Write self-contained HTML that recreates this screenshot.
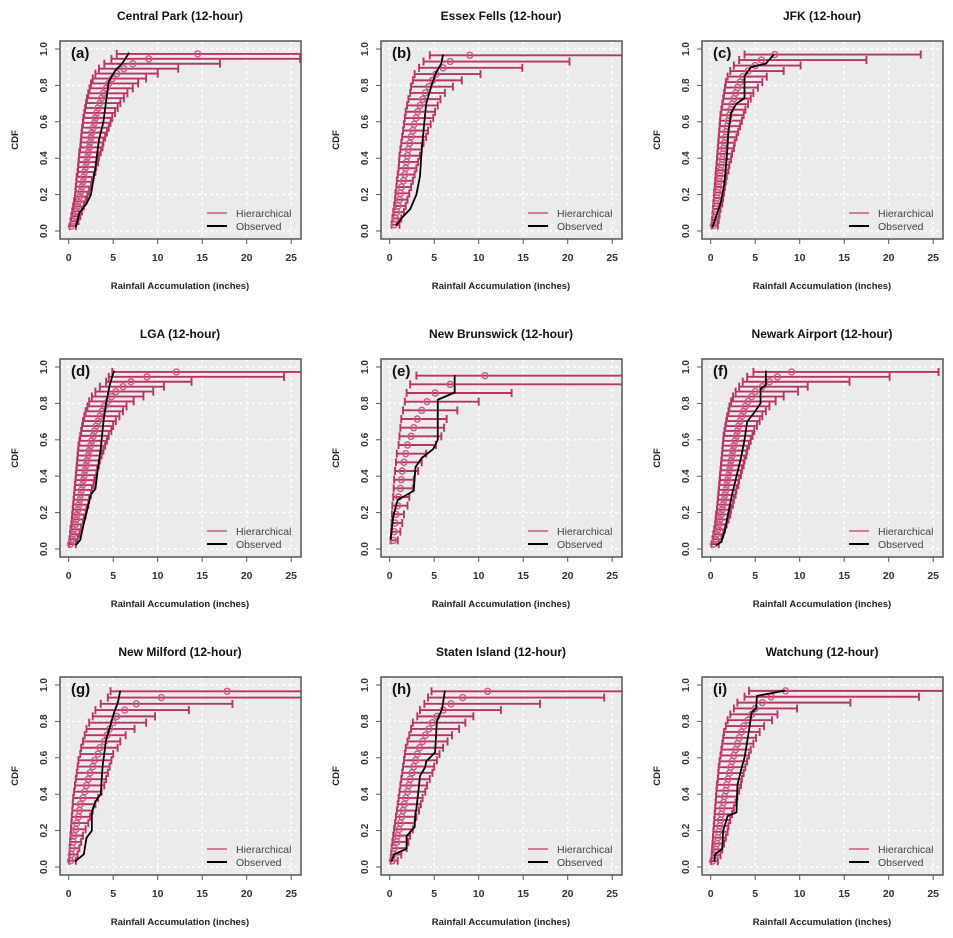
<!DOCTYPE html>
<html><head><meta charset="utf-8"><style>
body{margin:0;background:#fff;}
svg{display:block;font-family:"Liberation Sans",sans-serif;}
</style></head><body>
<svg id="fig" width="953" height="938" viewBox="0 0 953 938"></svg>
<script>
const titles=["Central Park (12-hour)","Essex Fells (12-hour)","JFK (12-hour)","LGA (12-hour)","New Brunswick (12-hour)","Newark Airport (12-hour)","New Milford (12-hour)","Staten Island (12-hour)","Watchung (12-hour)"];
const letters=["(a)","(b)","(c)","(d)","(e)","(f)","(g)","(h)","(i)"];
const xTicks=[0,5,10,15,20,25];
const yTicks=[0,0.2,0.4,0.6,0.8,1.0];
const yTickLabels=["0.0","0.2","0.4","0.6","0.8","1.0"];
const medA=[0.3,0.5,0.7,0.85,1.0,1.1,1.25,1.35,1.5,1.6,1.7,1.8,1.9,2.0,2.1,2.2,2.3,2.4,2.5,2.6,2.75,2.9,3.0,3.15,3.3,3.5,3.7,3.9,4.2,4.5,4.9,5.4,6.2,7.2,9.0,14.5];
const loA=[0.1,0.2,0.3,0.4,0.5,0.6,0.7,0.75,0.8,0.85,0.9,1.0,1.05,1.1,1.15,1.2,1.3,1.35,1.4,1.45,1.5,1.6,1.65,1.75,1.85,1.95,2.05,2.2,2.35,2.5,2.7,3.0,3.4,4.0,4.8,5.4];
const hiA=[0.8,1.1,1.3,1.5,1.7,1.9,2.1,2.3,2.5,2.6,2.8,3.0,3.1,3.3,3.4,3.6,3.8,3.9,4.1,4.3,4.5,4.7,4.9,5.2,5.5,5.8,6.2,6.6,7.2,7.8,8.7,10,12.3,17,26,27];
const obsXA=[0.8,1.2,2.0,2.5,3.0,3.4,3.9,4.3,4.5,5.2,6.0,6.8];
const obsPA=[0.02,0.1,0.15,0.2,0.35,0.5,0.6,0.75,0.82,0.88,0.92,0.98];
const medB=[0.5,0.65,0.8,0.95,1.1,1.2,1.3,1.55,1.7,1.8,1.9,2.0,2.1,2.25,2.4,2.6,2.75,2.95,3.15,3.4,3.7,4.0,4.4,4.8,5.2,6.0,6.8,9.0];
const loB=[0.2,0.3,0.4,0.5,0.6,0.65,0.75,0.8,0.9,1.0,1.05,1.1,1.2,1.3,1.4,1.5,1.6,1.7,1.8,1.95,2.1,2.3,2.4,2.6,2.8,3.3,3.8,4.5];
const hiB=[1.1,1.3,1.6,1.8,2.0,2.2,2.4,2.6,2.8,3.0,3.2,3.4,3.6,3.8,4.1,4.3,4.6,4.9,5.1,5.4,5.7,6.2,7.1,8.1,10.2,14.9,20.2,27];
const obsXB=[0.7,1.5,2.3,3.0,3.4,3.6,3.9,4.1,4.7,5.2,5.8,6.0];
const obsPB=[0.03,0.08,0.12,0.2,0.3,0.45,0.6,0.7,0.8,0.87,0.92,0.97];
const medC=[0.3,0.4,0.5,0.55,0.65,0.7,0.8,0.9,0.95,1.0,1.1,1.2,1.3,1.35,1.45,1.55,1.65,1.75,1.85,2.0,2.1,2.25,2.4,2.6,2.8,3.0,3.3,3.6,4.2,5.0,5.7,7.2];
const loC=[0.1,0.15,0.2,0.25,0.3,0.35,0.4,0.45,0.5,0.55,0.6,0.65,0.7,0.75,0.8,0.85,0.9,0.95,1.0,1.05,1.1,1.2,1.3,1.4,1.5,1.6,1.7,1.9,2.2,2.6,3.2,3.8];
const hiC=[0.8,0.9,1.0,1.1,1.3,1.4,1.5,1.6,1.7,1.8,2.0,2.1,2.3,2.4,2.6,2.7,2.9,3.1,3.3,3.5,3.7,3.9,4.2,4.5,4.8,5.3,5.8,6.3,8.2,10.1,17.5,23.6];
const obsXC=[0.2,0.6,1.1,1.5,1.8,2.0,2.3,2.9,3.8,3.8,4.5,6.2,7.1];
const obsPC=[0.02,0.08,0.15,0.25,0.4,0.55,0.65,0.7,0.73,0.85,0.9,0.92,0.97];
const medD=[0.2,0.35,0.5,0.6,0.75,0.85,0.95,1.05,1.15,1.25,1.35,1.45,1.55,1.65,1.75,1.85,1.95,2.05,2.2,2.3,2.45,2.6,2.75,2.9,3.1,3.3,3.5,3.75,4.0,4.4,4.8,5.3,6.1,7.0,8.8,12.1];
const loD=[0.05,0.1,0.15,0.2,0.3,0.35,0.4,0.45,0.5,0.55,0.6,0.65,0.7,0.75,0.8,0.85,0.9,0.95,1.0,1.05,1.1,1.2,1.3,1.4,1.5,1.6,1.75,1.9,2.1,2.3,2.6,3.0,3.5,4.2,4.5,4.9];
const hiD=[0.8,1.0,1.2,1.4,1.6,1.7,1.9,2.0,2.2,2.3,2.5,2.6,2.8,2.9,3.1,3.2,3.4,3.5,3.7,3.9,4.1,4.3,4.5,4.8,5.0,5.3,5.7,6.1,6.5,7.3,8.4,9.5,10.7,13.8,24.2,27];
const obsXD=[0.8,1.3,1.6,2.0,2.5,3.0,3.3,3.6,3.9,4.2,4.6,5.1];
const obsPD=[0.02,0.05,0.12,0.2,0.3,0.33,0.45,0.55,0.7,0.8,0.9,0.98];
const medE=[0.4,0.5,0.6,0.7,0.9,1.0,1.2,1.3,1.4,1.6,1.8,2.0,2.4,2.7,3.1,3.6,4.2,5.1,6.8,10.7];
const loE=[0.1,0.15,0.2,0.25,0.3,0.4,0.45,0.5,0.6,0.7,0.8,1.0,1.1,1.2,1.3,1.5,1.7,1.9,2.3,3.0];
const hiE=[0.9,1.2,1.4,1.6,2.0,2.2,2.6,2.7,3.2,3.6,4.1,5.2,5.8,6.1,6.4,7.6,10,13.7,27,27];
const obsXE=[0.1,0.4,0.9,2.0,2.7,2.9,3.6,4.9,5.4,5.4,7.3,7.3];
const obsPE=[0.05,0.18,0.27,0.3,0.32,0.45,0.5,0.55,0.6,0.82,0.86,0.955];
const medF=[0.3,0.5,0.65,0.8,0.95,1.05,1.15,1.3,1.4,1.5,1.6,1.7,1.8,1.9,2.0,2.1,2.2,2.3,2.4,2.5,2.6,2.75,2.9,3.0,3.15,3.3,3.5,3.7,3.9,4.2,4.6,5.0,5.8,6.6,7.5,9.1];
const loF=[0.1,0.2,0.3,0.4,0.5,0.55,0.6,0.7,0.75,0.8,0.85,0.9,0.95,1.0,1.05,1.1,1.15,1.2,1.25,1.3,1.35,1.4,1.45,1.55,1.65,1.75,1.85,2.0,2.1,2.3,2.5,2.8,3.2,3.6,4.1,4.8];
const hiF=[0.9,1.2,1.4,1.6,1.8,2.0,2.2,2.3,2.5,2.6,2.8,2.9,3.1,3.2,3.4,3.5,3.7,3.8,4.0,4.1,4.3,4.5,4.7,4.9,5.2,5.5,5.8,6.2,6.6,7.3,8.2,9.8,10.9,15.6,20.1,25.6];
const obsXF=[0.6,1.2,1.6,1.9,2.4,2.9,3.4,3.8,4.1,4.9,5.6,5.6,6.2,6.2];
const obsPF=[0.02,0.04,0.1,0.18,0.3,0.4,0.5,0.6,0.7,0.75,0.8,0.88,0.9,0.98];
const medG=[0.2,0.3,0.4,0.5,0.6,0.8,0.9,1.1,1.2,1.3,1.6,1.8,2.0,2.2,2.4,2.7,2.9,3.3,3.5,4.0,4.3,4.6,5.0,5.4,6.3,7.6,10.4,17.8];
const loG=[0.05,0.1,0.1,0.15,0.2,0.25,0.3,0.35,0.4,0.45,0.5,0.6,0.7,0.8,0.9,1.0,1.1,1.3,1.4,1.6,1.8,2.0,2.3,2.7,3.0,3.6,4.4,4.7];
const hiG=[0.8,1.0,1.2,1.4,1.6,1.9,2.2,2.4,2.7,3.0,3.3,3.7,4.0,4.2,4.4,4.6,4.8,5.0,5.5,5.8,6.4,7.4,8.7,9.7,13.5,18.4,27,27];
const obsXG=[0.7,1.7,2.0,2.6,2.6,3.0,3.6,3.8,4.2,4.7,5.1,5.5,5.8];
const obsPG=[0.03,0.07,0.16,0.2,0.3,0.36,0.4,0.55,0.7,0.78,0.85,0.9,0.97];
const medH=[0.3,0.4,0.5,0.8,0.9,1.05,1.2,1.35,1.5,1.65,1.8,2.0,2.15,2.3,2.5,2.7,2.9,3.1,3.35,3.7,4.0,4.4,4.8,5.3,6.0,6.9,8.2,11];
const loH=[0.1,0.15,0.2,0.3,0.4,0.5,0.6,0.7,0.8,0.9,1.0,1.1,1.2,1.3,1.4,1.5,1.6,1.7,1.8,2.0,2.2,2.4,2.6,3.1,3.4,3.9,4.3,4.7];
const hiH=[0.9,1.3,1.9,2.1,2.3,2.6,2.8,3.0,3.3,3.5,3.7,4.0,4.2,4.5,4.8,5.0,5.3,5.6,6.0,6.5,7.0,7.8,8.5,9.4,12.5,16.9,24.1,27];
const obsXH=[0.2,0.5,1.9,1.9,2.8,2.9,3.0,3.3,3.4,4.0,4.1,5.1,5.3,5.9,6.2];
const obsPH=[0.03,0.07,0.1,0.17,0.22,0.3,0.32,0.45,0.5,0.55,0.58,0.63,0.8,0.87,0.97];
const medI=[0.2,0.5,0.6,0.7,0.8,0.9,1.0,1.1,1.2,1.3,1.45,1.55,1.7,1.8,1.95,2.1,2.25,2.4,2.6,2.8,3.0,3.2,3.45,3.7,4.2,4.6,5.0,5.8,6.8,8.4];
const loI=[0.05,0.1,0.15,0.2,0.25,0.3,0.35,0.4,0.45,0.5,0.55,0.6,0.65,0.7,0.8,0.85,0.9,1.0,1.1,1.2,1.3,1.4,1.5,1.7,1.9,2.2,2.6,3.0,3.8,4.3];
const hiI=[0.8,1.1,1.3,1.5,1.7,1.9,2.0,2.2,2.4,2.6,2.8,3.0,3.2,3.4,3.5,3.7,3.9,4.1,4.3,4.5,4.8,5.1,5.5,6.0,6.9,7.5,9.7,15.7,23.4,27];
const obsXI=[0.4,0.5,1.3,1.4,1.9,2.9,3.0,3.5,3.8,4.3,4.6,5.1,5.2,8.4];
const obsPI=[0.03,0.07,0.1,0.2,0.28,0.3,0.45,0.55,0.6,0.75,0.85,0.87,0.94,0.97];
const meds=[medA,medB,medC,medD,medE,medF,medG,medH,medI];
const los=[loA,loB,loC,loD,loE,loF,loG,loH,loI];
const his=[hiA,hiB,hiC,hiD,hiE,hiF,hiG,hiH,hiI];
const obsXs=[obsXA,obsXB,obsXC,obsXD,obsXE,obsXF,obsXG,obsXH,obsXI];
const obsPs=[obsPA,obsPB,obsPC,obsPD,obsPE,obsPF,obsPG,obsPH,obsPI];

const NS="http://www.w3.org/2000/svg";
const svg=document.getElementById('fig');
function mk(tag,attrs,parent){const e=document.createElementNS(NS,tag);for(const k in attrs)e.setAttribute(k,attrs[k]);(parent||svg).appendChild(e);return e;}
const PINK="#b93466";
for(let i=0;i<9;i++){
  const ox=(i%3)*321, oy=Math.floor(i/3)*318;
  const g=mk('g',{transform:`translate(${ox},${oy})`});
  
  
  const L=60,R=301,T=41,B=239;
  const sx=v=>68.7+v*8.9, sy=p=>231-p*182;
  const bg=mk('rect',{x:L,y:T,width:R-L,height:B-T,fill:'#ebebeb'},g);
  
  
  const cp=mk('clipPath',{id:'c'+i},g);
  mk('rect',{x:L,y:T,width:R-L,height:B-T},cp);
  xTicks.forEach(t=>{const l=mk('line',{x1:sx(t),x2:sx(t),y1:T,y2:B,stroke:'#fff','stroke-width':1.4,'stroke-dasharray':'3,3'},g);});
  yTicks.forEach(t=>{const l=mk('line',{x1:L,x2:R,y1:sy(t),y2:sy(t),stroke:'#fff','stroke-width':1.4,'stroke-dasharray':'3,3'},g);});
  const pg=mk('g',{'clip-path':`url(#c${i})`},g);
  const med=meds[i],lo=los[i],hi=his[i],n=med.length;
  for(let k=0;k<n;k++){
    const p=(k+1)/(n+1), y=sy(p);
    const eb=mk('path',{d:`M${sx(lo[k])},${y}H${sx(hi[k])}M${sx(lo[k])},${y-4}V${y+4}M${sx(hi[k])},${y-4}V${y+4}`,stroke:PINK,'stroke-width':1.9,fill:'none'},pg);
    
    
    const c=mk('circle',{cx:sx(med[k]),cy:y,r:3,fill:'none',stroke:'#cc5a86','stroke-width':1.4},pg);
    
    
  }
  const ox2=obsXs[i],op=obsPs[i];
  const ol=mk('polyline',{points:ox2.map((v,k)=>sx(v)+','+sy(op[k])).join(' '),fill:'none',stroke:'#000','stroke-width':1.8},pg);
  
  
  const fr=mk('rect',{x:L,y:T,width:R-L,height:B-T,fill:'none',stroke:'#555','stroke-width':1.5},g);
  
  
  xTicks.forEach(t=>{mk('line',{x1:sx(t),x2:sx(t),y1:B,y2:B+5,stroke:'#555'},g);
    const tx=mk('text',{x:sx(t),y:B+22,'text-anchor':'middle','font-size':10.5,'font-weight':'bold',fill:'#333'},g);tx.textContent=t;
    });
  yTicks.forEach((t,k)=>{mk('line',{x1:L-5,x2:L,y1:sy(t),y2:sy(t),stroke:'#555'},g);
    const tx=mk('text',{x:0,y:0,transform:`translate(${L-13},${sy(t)}) rotate(-90)`,'text-anchor':'middle','font-size':10,'font-weight':'bold',fill:'#333'},g);tx.textContent=yTickLabels[k];
    });
  const ti=mk('text',{x:180,y:20,'text-anchor':'middle','font-size':12,'font-weight':'bold',fill:'#111'},g);ti.textContent=titles[i];
  
  const xl=mk('text',{x:180,y:289,'text-anchor':'middle','font-size':9.5,'font-weight':'bold',fill:'#222'},g);xl.textContent='Rainfall Accumulation (inches)';
  
  const yl=mk('text',{x:0,y:0,transform:'translate(18,140) rotate(-90)','text-anchor':'middle','font-size':9.5,'font-weight':'bold',fill:'#222'},g);yl.textContent='CDF';
  
  const lt=mk('text',{x:71,y:58,'font-size':15,'font-weight':'bold',fill:'#111'},g);lt.textContent=letters[i];
  
  const lg=mk('g',{},g);
  
  mk('line',{x1:207,x2:227,y1:213,y2:213,stroke:'#c9577f','stroke-width':1.4},lg);
  const t1=mk('text',{x:236,y:217,'font-size':10.5,fill:'#444'},lg);t1.textContent='Hierarchical';
  
  mk('line',{x1:207,x2:227,y1:226,y2:226,stroke:'#000','stroke-width':2},lg);
  const t2=mk('text',{x:236,y:230,'font-size':10.5,fill:'#444'},lg);t2.textContent='Observed';
  
}
</script>
</body></html>
